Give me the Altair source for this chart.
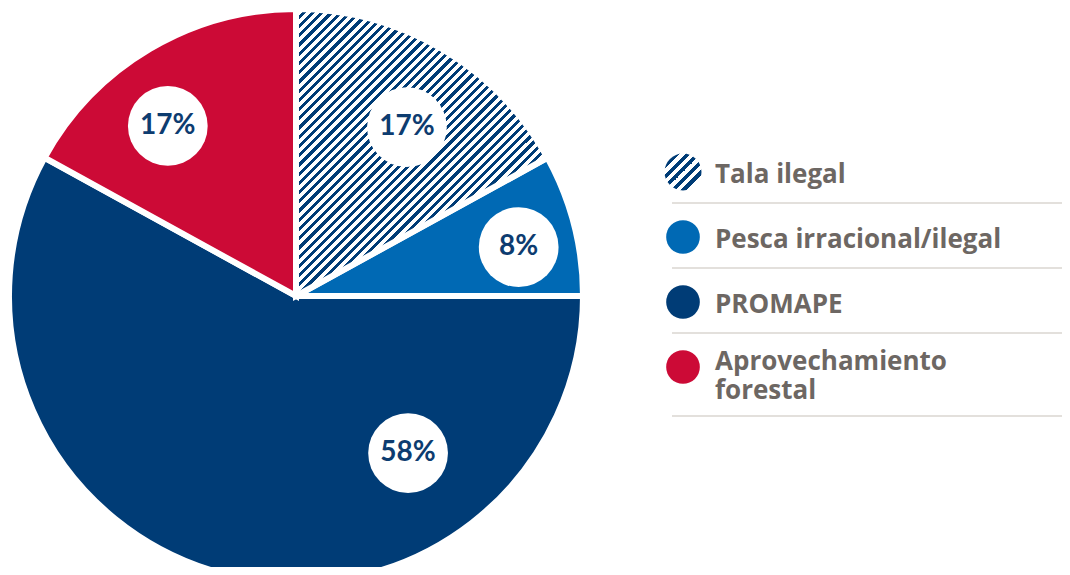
import altair as alt
import pandas as pd
import math

# ---- data ----
categories = ["Tala ilegal", "Pesca irracional/ilegal", "PROMAPE", "Aprovechamiento forestal"]
legend_labels = ["Tala ilegal", "Pesca irracional/ilegal", "PROMAPE", "Aprovechamiento\nforestal"]
values = [17, 8, 58, 17]
pct_labels = ["17%", "8%", "58%", "17%"]
colors = ["#003c76", "#0069b4", "#003c76", "#cc0a36"]

# label placement (degrees clockwise from 12 o'clock, px from centre)
label_angle = [33.3, 77.6, 144.5, 323.0]
label_radius = [202, 228, 193, 213]

# ---- layout ----
W, H = 1054, 559
CX, CY, R = 288, 288, 287
NAVY = "#003c76"
TXT = "#6d6763"

def stripes(n, dark=0.48, color=NAVY):
    st = []
    for k in range(n):
        a, b, c = k / n, (k + dark) / n, (k + 1) / n
        st += [alt.GradientStop(offset=a, color=color), alt.GradientStop(offset=b, color=color),
               alt.GradientStop(offset=b, color="white"), alt.GradientStop(offset=c, color="white")]
    return st

big_hatch = alt.LinearGradient(gradient="linear", x1=0, y1=0, x2=0.876, y2=1, stops=stripes(55, 0.46))
small_hatch = alt.LinearGradient(gradient="linear", x1=0, y1=0, x2=1, y2=1, stops=stripes(7, 0.5))

df = pd.DataFrame({
    "cat": categories,
    "legend": legend_labels,
    "value": values,
    "pct": pct_labels,
    "color": colors,
    "order": list(range(len(categories))),
    "lang": label_angle,
    "lrad": label_radius,
    "nlines": [l.count("\n") + 1 for l in legend_labels],
})

base = alt.Chart(df).transform_window(
    cum="sum(value)", sort=[alt.SortField("order")], frame=[None, 0]
).transform_calculate(
    t1="(datum.cum - datum.value) / 100 * 2 * PI",
    t2="datum.cum / 100 * 2 * PI",
)

cscale = alt.Scale(domain=categories, range=colors)

slices = base.mark_arc(outerRadius=R, stroke="white", strokeWidth=6).encode(
    theta=alt.Theta("t1:Q", scale=None),
    theta2="t2:Q",
    fill=alt.Fill("cat:N", scale=cscale, legend=None),
    x=alt.value(CX), y=alt.value(CY),
)

hatch = base.transform_filter(alt.datum.order == 0).mark_arc(
    outerRadius=R, stroke="white", strokeWidth=6, fill=big_hatch
).encode(
    theta=alt.Theta("t1:Q", scale=None),
    theta2="t2:Q",
    x=alt.value(CX), y=alt.value(CY),
)

lab = alt.Chart(df).transform_calculate(
    lx=f"{CX} + datum.lrad * sin(datum.lang * PI / 180)",
    ly=f"{CY} - datum.lrad * cos(datum.lang * PI / 180)",
)
lab_circles = lab.mark_circle(color="white", opacity=1, size=math.pi * 45 * 45).encode(
    x=alt.X("lx:Q", scale=None), y=alt.Y("ly:Q", scale=None)
)
lab_text = lab.mark_text(font="Lato", fontWeight="bold", fontSize=28, color="#0d3c70",
                         align="center", baseline="middle").encode(
    x=alt.X("lx:Q", scale=None), y=alt.Y("ly:Q", scale=None), text="pct:N"
)

# ---- legend ----
LX, LY0, LSTEP = 675, 164, 65
leg = alt.Chart(df).transform_calculate(
    sy=f"{LY0} + datum.order * {LSTEP}",
    ty=f"{LY0} + datum.order * {LSTEP} + 3 - 8 * (datum.nlines - 1)",
    ry=f"{LY0} + datum.order * {LSTEP} + 31 + 18 * (datum.nlines - 1)",
)
leg_sym = leg.transform_filter(alt.datum.order > 0).mark_circle(opacity=1, size=math.pi * 19 * 19).encode(
    x=alt.value(LX), y=alt.Y("sy:Q", scale=None),
    color=alt.Color("cat:N", scale=cscale, legend=None),
)
leg_hatch = leg.transform_filter(alt.datum.order == 0).mark_arc(
    outerRadius=18.5, fill=small_hatch, theta=0, theta2=2 * math.pi
).encode(
    x=alt.value(LX), y=alt.Y("sy:Q", scale=None),
)
leg_text = leg.mark_text(font="Open Sans", fontWeight="bold", fontSize=26, color=TXT,
                         align="left", baseline="middle", lineBreak="\n", lineHeight=29).encode(
    x=alt.value(707), y=alt.Y("ty:Q", scale=None), text="legend:N"
)
leg_rule = leg.mark_rule(color="#e3e0dc", strokeWidth=2).encode(
    x=alt.value(664), x2=alt.value(1062), y=alt.Y("ry:Q", scale=None)
)

chart = alt.layer(
    slices, hatch, lab_circles, lab_text, leg_rule, leg_sym, leg_hatch, leg_text
).properties(
    width=W, height=H, padding=0, autosize=alt.AutoSizeParams(type="none")
).configure_view(stroke=None)

chart.save("out.html", embed_options={"renderer": "svg", "actions": False})
